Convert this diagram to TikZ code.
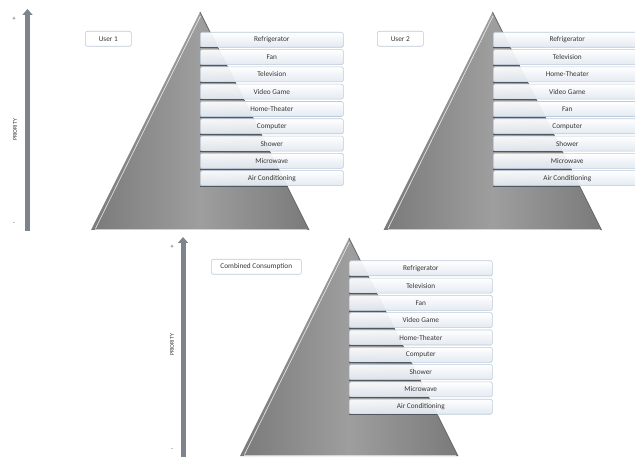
\documentclass[tikz,border=0pt]{standalone}
\usepackage{fontspec}
\setmainfont{Carlito}
\usetikzlibrary{arrows.meta}
\definecolor{pyrdark}{RGB}{122,122,122}
\definecolor{pyrlight}{RGB}{158,158,158}
\definecolor{boxedge}{RGB}{188,202,218}
\definecolor{boxbot}{RGB}{226,233,241}
\definecolor{txt}{RGB}{55,55,55}
\definecolor{arrowgray}{RGB}{125,132,140}
\definecolor{rowline}{RGB}{80,88,98}
\tikzset{
  itembox/.style={draw=boxedge, line width=0.6pt, rounded corners=1.5pt,
    top color=white, bottom color=boxbot, fill opacity=0.93, text opacity=1,
    minimum height=15pt, inner sep=0pt, font=\fontsize{7.3}{8}\selectfont,
    text=txt, anchor=north west},
  userbox/.style={draw=boxedge, line width=0.6pt, rounded corners=2pt, fill=white,
    minimum height=15pt, inner sep=0pt, font=\fontsize{7.3}{8}\selectfont,
    text=txt, anchor=north west},
  prioarrow/.style={draw=arrowgray, line width=5pt,
    -{Triangle[width=10pt,length=6pt]}},
  signlabel/.style={font=\fontsize{6}{6}\selectfont, text=txt, inner sep=0pt},
  priolabel/.style={font=\fontsize{5.8}{6}\selectfont, text=txt, inner sep=0pt, rotate=90},
}
\newcommand{\pyramid}[3]{% apex x, apex y, base y
  \shade[left color=pyrdark, right color=pyrdark, middle color=pyrlight]
    (#1,#2) -- (#1-109,#3) -- (#1+109,#3) -- cycle;
  \draw[pyrdark!85!black, line width=0.8pt] (#1,#2) -- (#1+109,#3);
  \draw[white, opacity=0.75, line width=0.7pt] (#1+0.5,#2+4) -- (#1-104.5,#3-1.5);
  \draw[white, opacity=0.6, line width=0.7pt] (#1-105,#3-1) -- (#1+107,#3-1);
}
\begin{document}
\begin{tikzpicture}[x=1pt,y=-1pt]
\clip (0,0) rectangle (635,457);
\fill[white] (0,0) rectangle (635,457);

% ---------- Panel 1 ----------
\coordinate (a1s) at (27.5,231);
\coordinate (a1e) at (27.5,9);
\draw[prioarrow] (a1s) -- (a1e);
\node[signlabel] (p1plus) at (14,19) {+};
\node[signlabel] (p1minus) at (14,224) {-};
\node[priolabel] (p1prio) at (15,130) {PRIORITY};
\node[userbox, minimum width=46pt] (u1) at (85,31) {User 1};
\pyramid{200}{12}{230}
\foreach \t [count=\i] in {Refrigerator,Fan,Television,Video Game,Home-Theater,Computer,Shower,Microwave,Air Conditioning}{
  \node[itembox, minimum width=143pt] (a\i) at (200,{32+(\i-1)*17.3}) {\t};
  \begin{scope}
    \clip (200,12) -- (91,230) -- (309,230) -- cycle;
    \draw[rowline, line width=0.9pt] ([yshift=-0.3pt]a\i.south west) -- ([yshift=-0.3pt]a\i.south east);
  \end{scope}
}

% ---------- Panel 2 ----------
\node[userbox, minimum width=46pt] (u2) at (377,31) {User 2};
\pyramid{492.5}{12}{230}
\foreach \t [count=\i] in {Refrigerator,Television,Home-Theater,Video Game,Fan,Computer,Shower,Microwave,Air Conditioning}{
  \node[itembox, minimum width=148pt] (b\i) at (493,{32+(\i-1)*17.3}) {\makebox[143pt]{\t}};
  \begin{scope}
    \clip (492.5,12) -- (383.5,230) -- (601.5,230) -- cycle;
    \draw[rowline, line width=0.9pt] ([yshift=-0.3pt]b\i.south west) -- ([yshift=-0.3pt]b\i.south east);
  \end{scope}
}

% ---------- Panel 3 ----------
\coordinate (a3s) at (183,460);
\coordinate (a3e) at (183,237);
\draw[prioarrow] (a3s) -- (a3e);
\node[signlabel] (p3plus) at (172,247) {+};
\node[signlabel] (p3minus) at (172,450) {-};
\node[priolabel] (p3prio) at (172,345) {PRIORITY};
\node[userbox, minimum width=90pt] (u3) at (211,259) {Combined Consumption};
\pyramid{349}{238}{456}
\foreach \t [count=\i] in {Refrigerator,Television,Fan,Video Game,Home-Theater,Computer,Shower,Microwave,Air Conditioning}{
  \node[itembox, minimum width=143pt] (c\i) at (349,{260.5+(\i-1)*17.3}) {\t};
  \begin{scope}
    \clip (349,238) -- (240,456) -- (458,456) -- cycle;
    \draw[rowline, line width=0.9pt] ([yshift=-0.3pt]c\i.south west) -- ([yshift=-0.3pt]c\i.south east);
  \end{scope}
}
\end{tikzpicture}
\end{document}
